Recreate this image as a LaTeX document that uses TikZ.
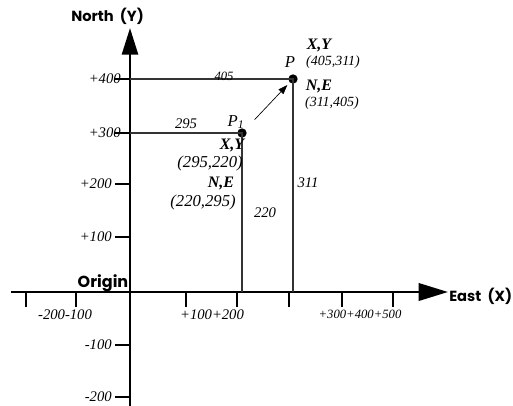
\documentclass[tikz,border=0pt]{standalone}
\usepackage{fontspec}
\setmainfont{Liberation Serif}
\newfontfamily\axisfont{Poppins}
\usetikzlibrary{arrows.meta}

\begin{document}
\begin{tikzpicture}[
    x=0.75pt, y=-0.75pt,
    axisline/.style={line width=2pt},
    tickline/.style={line width=1.5pt},
    guide/.style={line width=0.8pt, black!80},
    num/.style={font=\fontsize{11}{13}\selectfont\itshape, inner sep=0pt},
    bignum/.style={font=\fontsize{12.5}{14}\selectfont\itshape, inner sep=0pt},
    smallnum/.style={font=\fontsize{9.5}{11}\selectfont\itshape, inner sep=0pt},
    midnum/.style={font=\fontsize{10.5}{12}\selectfont\itshape, inner sep=0pt},
    tag/.style={font=\fontsize{12}{14}\selectfont\bfseries\itshape, inner sep=0pt},
    axisname/.style={font=\axisfont\fontsize{11}{13}\selectfont\bfseries, inner sep=0pt},
    dot/.style={circle, fill, inner sep=0pt, minimum size=7pt}
]
    \useasboundingbox (0,0) rectangle (513,406);

    % axes
    \coordinate (o) at (130,292);
    \coordinate (ytop) at (130,28);
    \coordinate (ybot) at (130,406);
    \coordinate (xleft) at (11,292);
    \coordinate (xright) at (448,292);
    \draw[axisline, -{Triangle[length=20pt, width=12pt]}] (ybot) -- (ytop);
    \draw[axisline, -{Triangle[length=22pt, width=13pt]}] (xleft) -- (xright);

    % ticks
    \foreach \tx in {26,76,186,237,289,342,393}
        \draw[tickline] (\tx,292) -- (\tx,307);
    \foreach \ty in {79,133,184,237,345,397}
        \draw[tickline] (115,\ty) -- (130,\ty);

    % tick labels
    \node[num, anchor=east] (l400) at (121,79) {+400};
    \node[num, anchor=east] (l300) at (121,133) {+300};
    \node[num, anchor=east] (l200) at (112,184) {+200};
    \node[num, anchor=east] (l100) at (112,237) {+100};
    \node[num, anchor=east] (lm100) at (112,345) {-100};
    \node[num, anchor=east] (lm200) at (112,397) {-200};
    \node[num] (lneg) at (65,315) {-200-100};
    \node[num] (lpos) at (212,315) {+100+200};
    \node[smallnum] (lfar) at (360,314) {+300+400+500};

    % axis names
    \node[axisname, anchor=west] (north) at (71,16) {North\ \ (Y)};
    \node[axisname, anchor=west] (east) at (449,296) {East\ \ (X)};
    \node[axisname, font=\axisfont\fontsize{12}{14}\selectfont\bfseries] (origin) at (103,283) {Origin};

    % points
    \node[dot] (P) at (293,79) {};
    \node[dot] (P1) at (242,133) {};
    \coordinate (y400) at (130,79);
    \coordinate (y300) at (130,133);
    \coordinate (xP) at (293,292);
    \coordinate (xP1) at (242,292);

    \draw[guide] (y400) -- (P.center) -- (xP);
    \draw[guide] (y300) -- (P1.center) -- (xP1);
    \draw[line width=0.5pt, -{Triangle[length=7pt, width=5pt]}, shorten <=10pt, shorten >=2.5pt] (P1) -- (P);

    % labels
    \node[smallnum] (d405) at (224,76) {405};
    \node[num] (d295) at (186,124) {295};
    \node[num] (d311) at (308,183) {311};
    \node[num] (d220) at (265,213) {220};
    \node[bignum] (nP) at (290,62) {P};
    \node[bignum] (nP1) at (236,122) {P\textsubscript{1}};
    \node[tag] (xyP) at (319,46) {X,Y};
    \node[midnum] (cP) at (333,62) {(405,311)};
    \node[tag] (neP) at (319,87) {N,E};
    \node[midnum] (eP) at (332,103) {(311,405)};
    \node[tag] (xyP1) at (232,145) {X,Y};
    \node[bignum] (cP1) at (210,163) {(295,220)};
    \node[tag] (neP1) at (221,183) {N,E};
    \node[bignum] (eP1) at (203,202) {(220,295)};
\end{tikzpicture}
\end{document}
